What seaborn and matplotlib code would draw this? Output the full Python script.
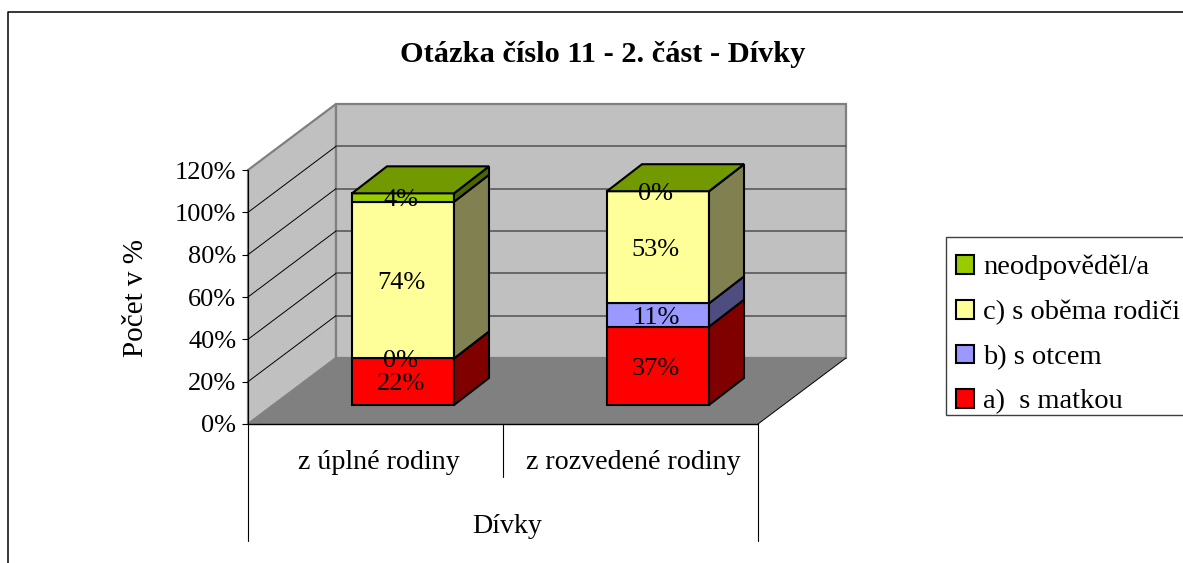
import numpy as np
import pandas as pd
import matplotlib
matplotlib.use("Agg")
import matplotlib.pyplot as plt
from matplotlib.lines import Line2D
from matplotlib.patches import Polygon, Rectangle
from matplotlib.transforms import ScaledTranslation
import seaborn as sns

# values
categories = ["z úplné rodiny", "z rozvedené rodiny"]
series_names = ["a)  s matkou", "b) s otcem", "c) s oběma rodiči", "neodpověděl/a"]
s_matkou = [22, 37]
s_otcem = [0, 11]
s_obema = [74, 53]
neodpovedel = [4, 0]
y_ticks = [0, 20, 40, 60, 80, 100, 120]
y_tick_labels = ["0%", "20%", "40%", "60%", "80%", "100%", "120%"]

front_colors = ["#FF0000", "#9999FF", "#FFFF99", "#99CC00"]
side_colors = ["#800000", "#4D4D80", "#808050", "#4D6600"]
top_color = "#739900"

W, H = 1183, 563
PX_X = 255.0       # pixels per category
PX_Y = 254 / 120   # pixels per percent


def dx(px):
    return px / PX_X


def dy(px):
    return px / PX_Y


sns.set_style("white", {"text.color": "black", "axes.labelcolor": "black",
                        "xtick.color": "black", "ytick.color": "black"})
plt.rcParams["font.family"] = ["Liberation Serif", "DejaVu Serif"]

fig = plt.figure(figsize=(W / 100, H / 100), dpi=100)
ax = fig.add_axes([248 / W, 1 - 424 / H, 510 / W, 254 / H])
ax.patch.set_visible(False)

df = pd.DataFrame({"kategorie": categories})
series = [s_matkou, s_otcem, s_obema, neodpovedel]

# bars stand a bit inside the floor
shift_x, shift_y = dx(27.5), dy(19)
depth_x, depth_y = dx(35), dy(27)
bottoms = np.full(len(categories), shift_y)
for name, vals, col in zip(series_names, series, front_colors):
    df["val"] = vals
    sns.barplot(data=df, x="kategorie", y="val", bottom=bottoms, width=0.4, color=col,
                saturation=1, errorbar=None, edgecolor="black", linewidth=1.5,
                label=name, legend=False, zorder=3, ax=ax)
    bottoms = bottoms + np.array(vals)

ax.set_xlim(-0.5, 1.5)
ax.set_ylim(0, 120)

# walls and floor
back_x, back_y = dx(88), dy(66)
ax.add_patch(Polygon([(-0.5, 0), (-0.5 + back_x, back_y), (-0.5 + back_x, 120 + back_y), (-0.5, 120)],
                     fc="#C0C0C0", ec="#808080", lw=1.6, clip_on=False, zorder=0))
ax.add_patch(Polygon([(-0.5 + back_x, back_y), (1.5 + back_x, back_y), (1.5 + back_x, 120 + back_y),
                      (-0.5 + back_x, 120 + back_y)],
                     fc="#C0C0C0", ec="#808080", lw=1.6, clip_on=False, zorder=0))
for v in y_ticks[1:-1]:
    ax.plot([-0.5 + back_x, 1.5 + back_x], [v + back_y, v + back_y], color="#505050", lw=1.1,
            clip_on=False, zorder=0.5)
for v in y_ticks[1:-1]:
    ax.plot([-0.5, -0.5 + back_x], [v, v + back_y], color="black", lw=0.7, clip_on=False, zorder=0.5)
ax.add_patch(Polygon([(-0.5, 0), (1.5, 0), (1.5 + back_x, back_y), (-0.5 + back_x, back_y)],
                     fc="#808080", ec="none", clip_on=False, zorder=1))
ax.plot([1.5, 1.5 + back_x], [0, back_y], color="black", lw=0.7, clip_on=False, zorder=1.5)

# 3d faces of the bars, taken from the bars seaborn drew
containers = list(ax.containers)
for i, cont in enumerate(containers):
    for bar in cont:
        bar.set_x(bar.get_x() + shift_x)
        bar.set_clip_on(False)
        x1 = bar.get_x() + bar.get_width()
        y0, y1 = bar.get_y(), bar.get_y() + bar.get_height()
        ax.add_patch(Polygon([(x1, y0), (x1 + depth_x, y0 + depth_y), (x1 + depth_x, y1 + depth_y), (x1, y1)],
                             fc=side_colors[i], ec="black", lw=1.5, clip_on=False, zorder=3))
        if i == len(containers) - 1:
            x0 = bar.get_x()
            ax.add_patch(Polygon([(x0, y1), (x1, y1), (x1 + depth_x, y1 + depth_y), (x0 + depth_x, y1 + depth_y)],
                                 fc=top_color, ec="black", lw=1.5, clip_on=False, zorder=3))
    labels = [f"{v}%" for v in series[i]]
    texts = ax.bar_label(cont, labels=labels, label_type="center", fontsize=19, color="black", zorder=5)
    for t in texts:
        t.xyann = (-1.5, -2)

sns.despine(ax=ax, left=True, bottom=True, right=True, top=True)
ax.set_yticks(y_ticks, y_tick_labels, fontsize=19)
ax.set_xticks(range(len(categories)), categories, fontsize=20.2)
ax.tick_params(axis="y", length=4.3, width=0.8, color="black", pad=4, left=True)
ax.tick_params(axis="x", length=0, pad=19)
for lab in ax.get_xticklabels():
    lab.set_transform(lab.get_transform() + ScaledTranslation(3 / 100, 0, fig.dpi_scale_trans))
ax.set_ylabel("Počet v %", fontsize=21, labelpad=18.5, y=0.495)
ax.set_xlabel("Dívky", fontsize=20.2, labelpad=28, x=(507 - 248) / 510)

# axis lines and the category brackets under the chart
low = -(541 - 424) / PX_Y
mid = -(477 - 424) / PX_Y
ax.plot([-0.5, 1.5], [0, 0], color="black", lw=1.0, clip_on=False, zorder=2)
ax.plot([-0.5, -0.5], [low, 120], color="black", lw=0.8, clip_on=False, zorder=2)
ax.plot([0.5, 0.5], [mid, 0], color="black", lw=0.8, clip_on=False, zorder=2)
ax.plot([1.5, 1.5], [low, 0], color="black", lw=0.8, clip_on=False, zorder=2)

fig.suptitle("Otázka číslo 11 - 2. část - Dívky", x=603 / W, y=1 - 55 / H, va="center",
             fontsize=21.9, fontweight="bold")

# outer chart frame, open on the right and at the bottom
fig.add_artist(Line2D([8 / W, 8 / W, 1], [0, 1 - 12 / H, 1 - 12 / H], color="black", lw=1.1))

# legend box runs off the right edge of the picture, kept under the axes so the entries show
fig.add_artist(Rectangle((946 / W, 1 - 415 / H), 260 / W, 178 / H, transform=fig.transFigure,
                         fc="white", ec="#404040", lw=1.0, zorder=-1))
handles, leg_labels = ax.get_legend_handles_labels()
leg = ax.legend(handles[::-1], leg_labels[::-1], loc="upper left",
                bbox_to_anchor=(946 / W, 1 - 245 / H), bbox_transform=fig.transFigure,
                fontsize=20.5, frameon=False,
                handlelength=0.63, handleheight=0.63, handletextpad=0.32, labelspacing=0.68,
                borderpad=0.35, borderaxespad=0)
leg.set_zorder(10)

fig.savefig("out.png", dpi=100)
